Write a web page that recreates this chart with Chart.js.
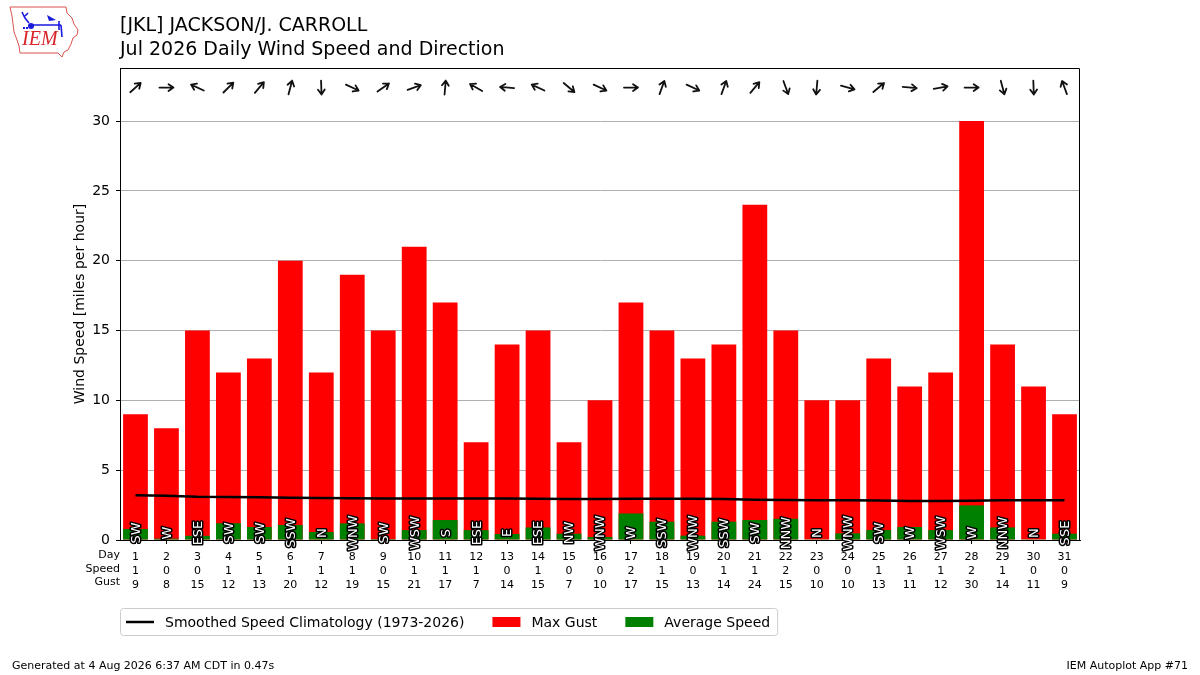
<!DOCTYPE html>
<html>
<head>
<meta charset="utf-8">
<script src="https://cdn.jsdelivr.net/npm/chart.js@4.4.1/dist/chart.umd.min.js"></script>
<style>
html,body{margin:0;padding:0;background:#fff;}
#c{display:block;}
</style>
</head>
<body>
<canvas id="c" width="1200" height="675"></canvas>
<script>
// ---- data ----
const days = [1,2,3,4,5,6,7,8,9,10,11,12,13,14,15,16,17,18,19,20,21,22,23,24,25,26,27,28,29,30,31];
const maxGust = [9,8,15,12,13,20,12,19,15,21,17,7,14,15,7,10,17,15,13,14,24,15,10,10,13,11,12,30,14,11,9];
const avgSpeed = [0.79,0.1,0.3,1.2,0.93,1.07,0.57,1.19,0.07,0.71,1.43,0.71,0.43,0.9,0.45,0.21,1.9,1.31,0.31,1.31,1.43,1.52,0.05,0.48,0.71,0.93,0.71,2.48,0.9,0.05,0.45];
const climatology = [3.2,3.17,3.1,3.08,3.06,3.03,3.0,2.99,2.98,2.98,2.98,2.97,2.97,2.96,2.94,2.93,2.95,2.96,2.95,2.94,2.89,2.86,2.85,2.84,2.82,2.8,2.79,2.81,2.84,2.85,2.84];
const dirLabels = ['SW','W','ESE','SW','SW','SSW','N','WNW','SW','WSW','S','ESE','E','ESE','NW','WNW','W','SSW','WNW','SSW','SW','NNW','N','WNW','SW','W','WSW','W','NNW','N','SSE'];
// average direction the wind blows FROM (degrees)
const dirDegrees = [228,270,115,225,220,195,358,295,235,250,185,120,95,115,310,295,270,200,295,200,220,340,5,285,230,275,260,270,345,358,160];
const rowHeaders = ['Day','Speed','Gust'];
const yTicksMax = 30;

const FONT = 'DejaVu Sans';

const extras = {
  id: 'extras',
  afterDatasetsDraw(chart) {
    const ctx = chart.ctx;
    const xs = chart.scales.x, ys = chart.scales.y;
    // direction labels
    ctx.save();
    ctx.font = '13px "' + FONT + '"';
    ctx.textAlign = 'center';
    ctx.textBaseline = 'middle';
    ctx.lineJoin = 'round';
    for (let i = 0; i < days.length; i++) {
      const x = xs.getPixelForValue(i);
      const y = ys.getPixelForValue(0.5);
      ctx.save();
      ctx.translate(x, y);
      ctx.rotate(-Math.PI / 2);
      ctx.lineWidth = 3;
      ctx.strokeStyle = '#000';
      ctx.strokeText(dirLabels[i], 0, 1);
      ctx.fillStyle = '#fff';
      ctx.fillText(dirLabels[i], 0, 1);
      ctx.restore();
    }
    ctx.restore();
    // arrows
    ctx.save();
    ctx.strokeStyle = '#111';
    ctx.lineWidth = 1.8;
    ctx.lineCap = 'round';
    const L = 14, H = 6;
    for (let i = 0; i < days.length; i++) {
      const cx = xs.getPixelForValue(i);
      const cy = ys.getPixelForValue(32.4);
      const th = ((dirDegrees[i] + 180) % 360) * Math.PI / 180;
      const dx = Math.sin(th), dy = -Math.cos(th);
      const tx = cx + dx * L / 2, ty = cy + dy * L / 2;
      const bx = cx - dx * L / 2, by = cy - dy * L / 2;
      ctx.beginPath();
      ctx.moveTo(bx, by); ctx.lineTo(tx, ty);
      const ang = Math.atan2(dy, dx);
      for (const s of [1, -1]) {
        const ha = ang + Math.PI - s * 0.6;
        ctx.moveTo(tx, ty);
        ctx.lineTo(tx + Math.cos(ha) * H, ty + Math.sin(ha) * H);
      }
      ctx.stroke();
    }
    ctx.restore();
  },
  afterDraw(chart) {
    const ctx = chart.ctx;
    const a = chart.chartArea;
    ctx.save();
    // spines top/right
    ctx.strokeStyle = '#000';
    ctx.lineWidth = 1;
    ctx.beginPath();
    ctx.moveTo(a.left + 0.5, a.top + 0.5);
    ctx.lineTo(a.right - 0.5, a.top + 0.5);
    ctx.lineTo(a.right - 0.5, a.bottom);
    ctx.stroke();
    // row headers
    ctx.fillStyle = '#000';
    ctx.font = '11px "' + FONT + '"';
    ctx.textAlign = 'right';
    ctx.textBaseline = 'middle';
    rowHeaders.forEach((t, k) => ctx.fillText(t, a.left, 555 + k * 13.8));
    // y title
    ctx.save();
    ctx.translate(80, (a.top + a.bottom) / 2);
    ctx.rotate(-Math.PI / 2);
    ctx.font = '14px "' + FONT + '"';
    ctx.textAlign = 'center';
    ctx.textBaseline = 'middle';
    ctx.fillText('Wind Speed [miles per hour]', 0, 0);
    ctx.restore();
    // titles
    ctx.font = '19px "' + FONT + '"';
    ctx.textAlign = 'left';
    ctx.textBaseline = 'alphabetic';
    ctx.fillText('[JKL] JACKSON/J. CARROLL', 120, 31);
    ctx.fillText('Jul 2026 Daily Wind Speed and Direction', 120, 55);
    // footer
    ctx.font = '11px "' + FONT + '"';
    ctx.fillText('Generated at 4 Aug 2026 6:37 AM CDT in 0.47s', 12, 669);
    ctx.textAlign = 'right';
    ctx.fillText('IEM Autoplot App #71', 1188, 669);
    // legend
    const ds = chart.data.datasets;
    ctx.font = '14px "' + FONT + '"';
    ctx.textAlign = 'left';
    ctx.textBaseline = 'middle';
    const ly = 622;
    let x = 126;
    const items = [];
    ds.forEach((d) => {
      const tw = ctx.measureText(d.label).width;
      items.push({d, x, tw});
      x += 39 + tw + 28;
    });
    const boxR = items[items.length - 1].x + 39 + items[items.length - 1].tw + 7;
    ctx.beginPath();
    if (ctx.roundRect) ctx.roundRect(120.5, 608.5, boxR - 120, 27, 3); else ctx.rect(120.5, 608.5, boxR - 120, 27);
    ctx.fillStyle = 'rgba(255,255,255,0.8)';
    ctx.fill();
    ctx.strokeStyle = '#cccccc';
    ctx.lineWidth = 1;
    ctx.stroke();
    items.forEach((it) => {
      if (it.d.type === 'line') {
        ctx.strokeStyle = '#000';
        ctx.lineWidth = 2.5;
        ctx.beginPath();
        ctx.moveTo(it.x, ly); ctx.lineTo(it.x + 28, ly);
        ctx.stroke();
      } else {
        ctx.fillStyle = it.d.backgroundColor;
        ctx.fillRect(it.x, ly - 5, 28, 10);
      }
      ctx.fillStyle = '#000';
      ctx.fillText(it.d.label, it.x + 39, ly + 1);
    });
    // logo
    ctx.strokeStyle = '#d9534f';
    ctx.lineWidth = 1;
    ctx.beginPath();
    const pts = [[10,7],[66,7],[67,13],[72,18],[74,24],[78,30],[77,35],[73,38],[71,44],[68,50],[64,52],[62,57],[58,53],[20,53],[19,46],[17,40],[14,32],[13,24],[12,16]];
    pts.forEach((p, k) => k ? ctx.lineTo(p[0], p[1]) : ctx.moveTo(p[0], p[1]));
    ctx.closePath();
    ctx.stroke();
    ctx.strokeStyle = '#1a1adf';
    ctx.fillStyle = '#1a1adf';
    ctx.lineWidth = 1.6;
    ctx.beginPath();
    ctx.moveTo(31, 25); ctx.lineTo(61, 25);
    ctx.moveTo(22, 12); ctx.lineTo(25, 18); ctx.lineTo(29, 23);
    ctx.moveTo(25, 16); ctx.lineTo(28, 13);
    ctx.moveTo(59, 21); ctx.lineTo(59, 30);
    ctx.moveTo(61, 25); ctx.lineTo(62, 37);
    ctx.stroke();
    ctx.beginPath(); ctx.arc(31, 26, 3, 0, Math.PI * 2); ctx.fill();
    ctx.fillRect(23, 27, 2, 2); ctx.fillRect(26, 27, 2, 2);
    ctx.beginPath(); ctx.moveTo(47, 15); ctx.lineTo(56, 20); ctx.lineTo(49, 21); ctx.closePath(); ctx.fill();
    ctx.fillStyle = '#d9252a';
    ctx.font = 'italic 20px "Liberation Serif"';
    ctx.textAlign = 'left';
    ctx.textBaseline = 'alphabetic';
    ctx.fillText('IEM', 22, 45);
    ctx.restore();
  }
};

new Chart(document.getElementById('c'), {
  type: 'bar',
  data: {
    labels: days.map(String),
    datasets: [
      {
        type: 'line',
        label: 'Smoothed Speed Climatology (1973-2026)',
        data: climatology,
        borderColor: '#000',
        borderWidth: 2.5,
        pointRadius: 0,
        tension: 0,
        order: 0
      },
      {
        label: 'Max Gust',
        data: maxGust,
        backgroundColor: '#ff0000',
        borderWidth: 0,
        grouped: false,
        barPercentage: 0.8,
        categoryPercentage: 1,
        order: 2
      },
      {
        label: 'Average Speed',
        data: avgSpeed,
        backgroundColor: '#008000',
        borderWidth: 0,
        grouped: false,
        barPercentage: 0.8,
        categoryPercentage: 1,
        order: 1
      }
    ]
  },
  options: {
    responsive: false,
    animation: false,
    devicePixelRatio: 1,
    layout: { padding: { left: 0, top: 68, right: 120, bottom: 0 } },
    plugins: { legend: { display: false }, tooltip: { enabled: false }, title: { display: false } },
    scales: {
      x: {
        offset: true,
        grid: { offset: false, drawOnChartArea: false, drawTicks: true, tickLength: 4, tickColor: '#000' },
        border: { color: '#000', width: 1 },
        ticks: {
          color: '#000', autoSkip: false, maxRotation: 0, padding: 6,
          font: { family: FONT, size: 11, lineHeight: 1.26 },
          callback: (v, i) => [String(days[i]), String(Math.round(avgSpeed[i])), String(maxGust[i])]
        },
        afterFit: (s) => { s.height = 135; }
      },
      y: {
        min: 0, max: 33.8,
        grid: { color: '#b0b0b0', lineWidth: 1, tickColor: '#000', tickLength: 4 },
        border: { color: '#000', width: 1 },
        ticks: { stepSize: 5, includeBounds: false, color: '#000', padding: 6, font: { family: FONT, size: 14 },
          callback: (v) => v <= yTicksMax ? String(v) : null },
        afterFit: (s) => { s.width = 120; }
      }
    }
  },
  plugins: [extras]
});
</script>
</body>
</html>
